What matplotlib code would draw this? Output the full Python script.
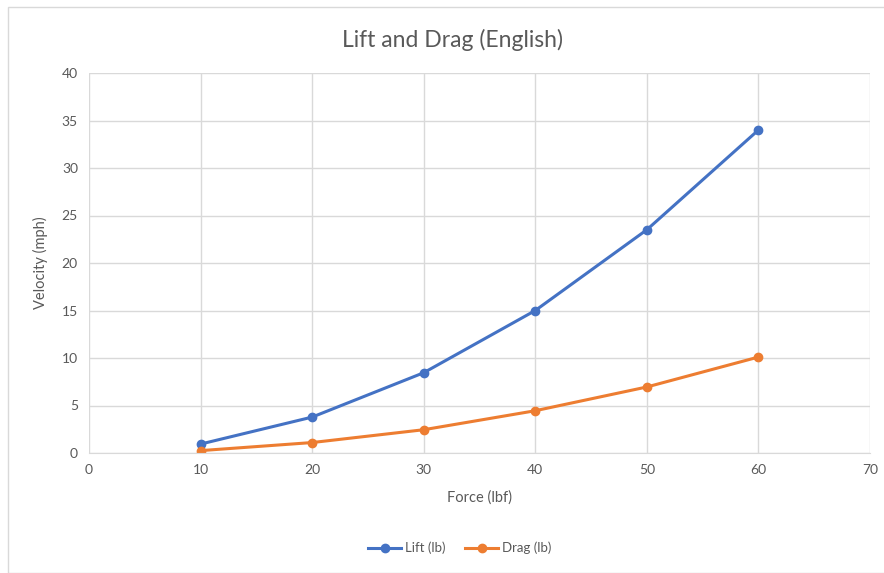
import matplotlib
matplotlib.use("Agg")
import matplotlib.pyplot as plt
from matplotlib.patches import Rectangle

force = [10, 20, 30, 40, 50, 60]
lift = [0.94, 3.78, 8.45, 15.0, 23.5, 34.0]
drag = [0.25, 1.1, 2.45, 4.45, 6.95, 10.1]
x_ticks = [0, 10, 20, 30, 40, 50, 60, 70]
y_ticks = [0, 5, 10, 15, 20, 25, 30, 35, 40]

plt.rcParams['font.family'] = ['Lato', 'DejaVu Sans']
W, H = 884, 573
fig = plt.figure(figsize=(W / 100, H / 100), dpi=100)
fig.patches.append(Rectangle((8 / W, 0), 1, 1 - 7 / H, transform=fig.transFigure,
                             fill=False, edgecolor='#D9D9D9', lw=1))
ax = fig.add_axes([89 / W, 1 - 453 / H, (870 - 89) / W, (453 - 73) / H])

text_c = '#595959'
ax.plot(force, lift, color='#4472C4', lw=2.2, marker='o', ms=6, label='Lift (lb)')
ax.plot(force, drag, color='#ED7D31', lw=2.2, marker='o', ms=6, label='Drag (lb)')
ax.set_xlim(0, 70)
ax.set_ylim(0, 40)
ax.set_xticks(x_ticks)
ax.set_yticks(y_ticks)
ax.grid(True, color='#D9D9D9', lw=1)
ax.set_axisbelow(True)
for s in ['top', 'right', 'left']:
    ax.spines[s].set_visible(False)
ax.spines['bottom'].set_color('#D9D9D9')
ax.tick_params(length=0, colors=text_c, labelsize=10, pad=8)
ax.set_xlabel('Force (lbf)', color=text_c, fontsize=10.5, labelpad=10)
ax.set_ylabel('Velocity (mph)', color=text_c, fontsize=10.5, labelpad=10)
fig.text(453 / W, 1 - 40 / H, 'Lift and Drag (English)', ha='center', va='center',
         fontsize=16.5, color=text_c)
fig.legend(loc='center', bbox_to_anchor=(460 / W, 1 - 548 / H), ncol=2, frameon=False,
           fontsize=9.5, labelcolor=text_c, handlelength=2.5, columnspacing=1.5,
           handletextpad=0.3)
fig.savefig('out.png', dpi=100)
